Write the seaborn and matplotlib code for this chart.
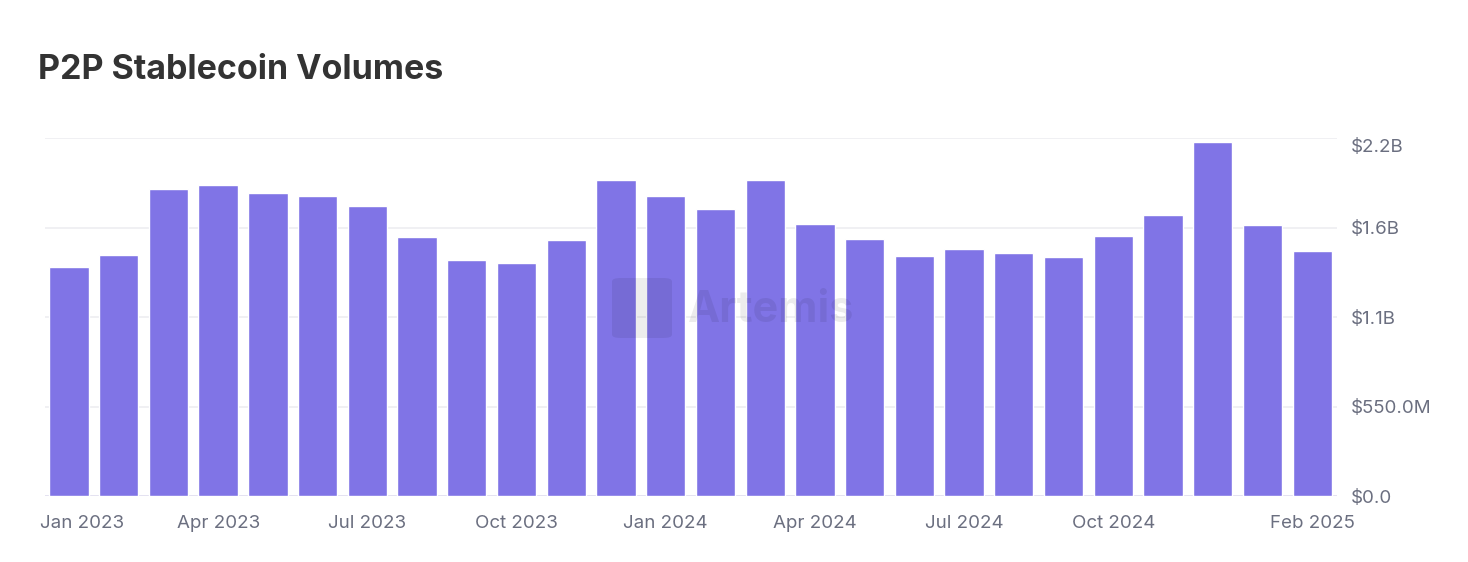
import matplotlib
matplotlib.use("Agg")
import matplotlib.pyplot as plt
import matplotlib.transforms as mtransforms
from matplotlib.patches import FancyBboxPatch
import seaborn as sns
import pandas as pd

months = ["Jan 2023", "Feb 2023", "Mar 2023", "Apr 2023", "May 2023", "Jun 2023",
          "Jul 2023", "Aug 2023", "Sep 2023", "Oct 2023", "Nov 2023", "Dec 2023",
          "Jan 2024", "Feb 2024", "Mar 2024", "Apr 2024", "May 2024", "Jun 2024",
          "Jul 2024", "Aug 2024", "Sep 2024", "Oct 2024", "Nov 2024", "Dec 2024",
          "Jan 2025", "Feb 2025"]
volume_musd = [1409, 1481, 1885, 1909, 1860, 1845, 1782, 1593, 1448, 1434, 1575, 1942,
               1844, 1766, 1940, 1670, 1579, 1477, 1520, 1491, 1469, 1596, 1727, 2177,
               1667, 1504]
xtick_labels = ["Jan 2023", "Apr 2023", "Jul 2023", "Oct 2023", "Jan 2024",
                "Apr 2024", "Jul 2024", "Oct 2024", "Feb 2025"]
ytick_values = [0, 550, 1100, 1650, 2200]
ytick_labels = ["$0.0", "$550.0M", "$1.1B", "$1.6B", "$2.2B"]

df = pd.DataFrame({"month": months, "volume": volume_musd})

sns.set_style("white")
plt.rcParams["font.family"] = ["Inter", "DejaVu Sans"]

bar_color = "#8074E6"
text_gray = "#6B6F80"

fig = plt.figure(figsize=(14.68, 5.62), dpi=100)
ax = fig.add_axes([0.0307, 0.1174, 0.8801, 0.637])

sns.barplot(data=df, x="month", y="volume", color=bar_color, saturation=1,
            width=0.79, ax=ax, zorder=3)

ax.set_ylim(0, 2200)
ax.set_xlim(-0.48, 25.5)
ax.set_xlabel("")
ax.set_ylabel("")

# grid
for v in ytick_values:
    ax.axhline(v, color="#ECECF0" if v else "#DCDAEE", lw=1.1, zorder=1)

ax.yaxis.tick_right()
ax.set_yticks(ytick_values)
ax.set_yticklabels(ytick_labels)
ax.tick_params(axis="y", length=0, pad=10, labelsize=13.5, labelcolor=text_gray)

pos = [months.index(m) for m in xtick_labels]
ax.set_xticks(pos)
ax.set_xticklabels(xtick_labels)
ax.tick_params(axis="x", length=0, pad=14, labelsize=13.5, labelcolor=text_gray)

for s in ax.spines.values():
    s.set_visible(False)

# nudge edge labels inside like the original
first = ax.get_xticklabels()[0]
first.set_transform(first.get_transform() + mtransforms.ScaledTranslation(0.13, 0, fig.dpi_scale_trans))
top = ax.get_yticklabels()[-1]
top.set_transform(top.get_transform() + mtransforms.ScaledTranslation(0, -0.07, fig.dpi_scale_trans))

# watermark
fig.patches.append(FancyBboxPatch((612 / 1468, 1 - 338 / 562), 60 / 1468, 60 / 562,
                                  boxstyle="round,pad=0,rounding_size=0.006",
                                  transform=fig.transFigure, facecolor="#000000",
                                  alpha=0.07, edgecolor="none", zorder=5))
fig.text(688 / 1468, 1 - 310 / 562, "Artemis", fontsize=31, fontweight="bold",
         color="#000000", alpha=0.075, va="center", ha="left", zorder=5)

fig.text(38 / 1468, 1 - 70 / 562, "P2P Stablecoin Volumes", fontsize=24.5,
         fontweight="bold", color="#333333", va="center", ha="left")

fig.savefig("out.png", dpi=100, facecolor="white")
